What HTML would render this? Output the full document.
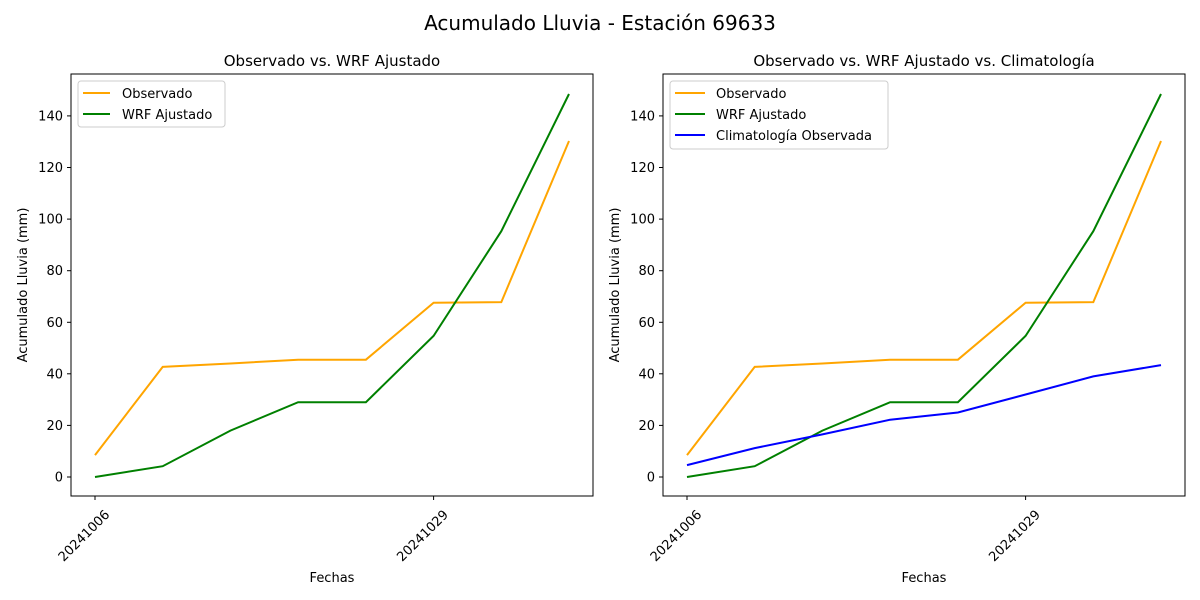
<!DOCTYPE html>
<html><head><meta charset="utf-8"><style>
html,body{margin:0;padding:0;background:#fff;}
svg{display:block;font-family:"DejaVu Sans","Liberation Sans",sans-serif;}
</style></head><body>
<svg width="1200" height="600" viewBox="0 0 1200 600" xmlns="http://www.w3.org/2000/svg">
<rect width="1200" height="600" fill="#fff"/>
<text x="600" y="30" font-size="20" text-anchor="middle">Acumulado Lluvia - Estación 69633</text>
<defs>
<g id="yt" font-size="13" text-anchor="end">
<line x1="-4" y1="477" x2="0" y2="477" stroke="#000"/><text x="-8" y="481.5">0</text>
<line x1="-4" y1="425.4" x2="0" y2="425.4" stroke="#000"/><text x="-8" y="430">20</text>
<line x1="-4" y1="373.8" x2="0" y2="373.8" stroke="#000"/><text x="-8" y="378.3">40</text>
<line x1="-4" y1="322.3" x2="0" y2="322.3" stroke="#000"/><text x="-8" y="326.8">60</text>
<line x1="-4" y1="270.7" x2="0" y2="270.7" stroke="#000"/><text x="-8" y="275.2">80</text>
<line x1="-4" y1="219.1" x2="0" y2="219.1" stroke="#000"/><text x="-8" y="223.6">100</text>
<line x1="-4" y1="167.5" x2="0" y2="167.5" stroke="#000"/><text x="-8" y="172">120</text>
<line x1="-4" y1="115.9" x2="0" y2="115.9" stroke="#000"/><text x="-8" y="120.4">140</text>
</g>
</defs>
<!-- Left -->
<text x="332" y="66" font-size="15" text-anchor="middle">Observado vs. WRF Ajustado</text>
<g transform="translate(71,0)"><use href="#yt"/></g>
<polyline fill="none" stroke="orange" stroke-width="2" points="95,455.1 162.7,366.9 230.4,363.5 298.1,359.7 365.9,359.7 433.6,302.7 501.3,302.1 569,141"/>
<polyline fill="none" stroke="green" stroke-width="2" points="95,477 162.7,466.2 230.4,430.6 298.1,402.2 365.9,402.2 433.6,335.9 501.3,231.2 569,94"/>
<rect x="71" y="74" width="522" height="422" fill="none" stroke="#000"/>
<line x1="95" y1="496" x2="95" y2="500" stroke="#000"/><line x1="433.6" y1="496" x2="433.6" y2="500" stroke="#000"/>
<text font-size="13" transform="translate(104,509) rotate(-45)" text-anchor="end" dy="9">20241006</text>
<text font-size="13" transform="translate(442.6,509) rotate(-45)" text-anchor="end" dy="9">20241029</text>
<text x="332" y="582" font-size="13" text-anchor="middle">Fechas</text>
<text font-size="13" text-anchor="middle" transform="translate(27,285) rotate(-90)">Acumulado Lluvia (mm)</text>
<rect x="78" y="81" width="147" height="46" rx="3" fill="#fff" stroke="#ccc"/>
<line x1="83" y1="93" x2="110" y2="93" stroke="orange" stroke-width="2"/><text x="122" y="98" font-size="13">Observado</text>
<line x1="83" y1="114" x2="110" y2="114" stroke="green" stroke-width="2"/><text x="122" y="119" font-size="13">WRF Ajustado</text>
<!-- Right -->
<text x="924" y="66" font-size="15" text-anchor="middle">Observado vs. WRF Ajustado vs. Climatología</text>
<g transform="translate(663,0)"><use href="#yt"/></g>
<polyline fill="none" stroke="orange" stroke-width="2" points="687,455.1 754.7,366.9 822.4,363.5 890.1,359.7 957.9,359.7 1025.6,302.7 1093.3,302.1 1161,141"/>
<polyline fill="none" stroke="green" stroke-width="2" points="687,477 754.7,466.2 822.4,430.6 890.1,402.2 957.9,402.2 1025.6,335.9 1093.3,231.2 1161,94"/>
<polyline fill="none" stroke="blue" stroke-width="2" points="687,465.1 754.7,448.1 822.4,434.4 890.1,419.7 957.9,412.5 1025.6,394.5 1093.3,376.4 1161,365.1"/>
<rect x="663" y="74" width="522" height="422" fill="none" stroke="#000"/>
<line x1="687" y1="496" x2="687" y2="500" stroke="#000"/><line x1="1025.6" y1="496" x2="1025.6" y2="500" stroke="#000"/>
<text font-size="13" transform="translate(696,509) rotate(-45)" text-anchor="end" dy="9">20241006</text>
<text font-size="13" transform="translate(1034.6,509) rotate(-45)" text-anchor="end" dy="9">20241029</text>
<text x="924" y="582" font-size="13" text-anchor="middle">Fechas</text>
<text font-size="13" text-anchor="middle" transform="translate(619,285) rotate(-90)">Acumulado Lluvia (mm)</text>
<rect x="670" y="81" width="218" height="68" rx="3" fill="#fff" stroke="#ccc"/>
<line x1="675" y1="93" x2="705" y2="93" stroke="orange" stroke-width="2"/><text x="716" y="98" font-size="13">Observado</text>
<line x1="675" y1="114" x2="705" y2="114" stroke="green" stroke-width="2"/><text x="716" y="119" font-size="13">WRF Ajustado</text>
<line x1="675" y1="135" x2="705" y2="135" stroke="blue" stroke-width="2"/><text x="716" y="140" font-size="13">Climatología Observada</text>
</svg>
</body></html>
